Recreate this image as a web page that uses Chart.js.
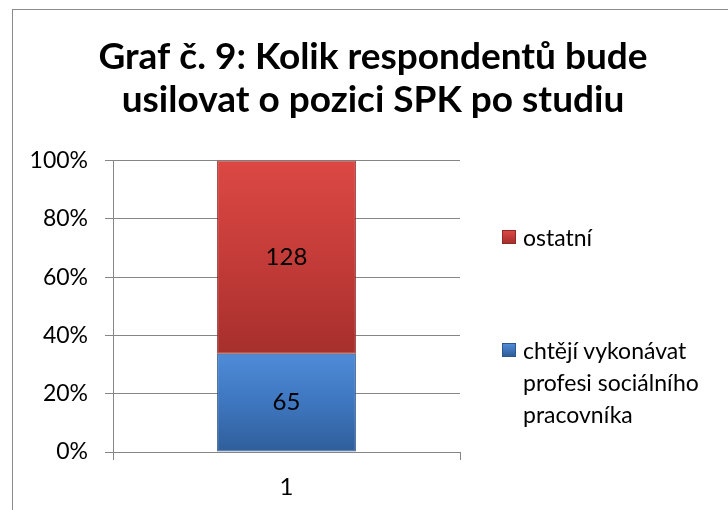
<!DOCTYPE html>
<html lang="cs">
<head>
<meta charset="utf-8">
<title>Graf č. 9</title>
<script src="https://cdn.jsdelivr.net/npm/chart.js@4.4.1/dist/chart.umd.min.js"></script>
<style>
    html, body {
        margin: 0;
        padding: 0;
        background: #fff;
    }
    .chart-wrap {
        position: relative;
        width: 728px;
        height: 510px;
        overflow: hidden;
        font-family: "Lato", "DejaVu Sans", sans-serif;
    }
    .chart-frame {
        position: absolute;
        left: 12px;
        top: 9px;
        width: 740px;
        height: 520px;
        border: 1.5px solid #8a8a8a;
        pointer-events: none;
    }
    #chart {
        position: absolute;
        left: 0;
        top: 0;
    }
    .legend {
        position: absolute;
        left: 502px;
        top: 221px;
        width: 215px;
        margin: 0;
        padding: 0;
        list-style: none;
        font-size: 23px;
        line-height: 32px;
        color: #000;
    }
    .legend-item {
        display: flex;
        align-items: flex-start;
    }
    .legend-item + .legend-item {
        margin-top: 81px;
    }
    .legend-box {
        flex: 0 0 14px;
        height: 14px;
        margin: 9px 7px 0 0;
    }
</style>
</head>
<body>
<div class="chart-wrap">
    <canvas id="chart" width="728" height="510"></canvas>
    <div class="chart-frame"></div>
    <ul class="legend" id="legend"></ul>
</div>
<script>
const chartTitle = ["Graf č. 9: Kolik respondentů bude", "usilovat o pozici SPK po studiu"];
const categories = ["1"];
const seriesNames = ["chtějí vykonávat profesi sociálního pracovníka", "ostatní"];
const wantSocialWork = [65];
const others = [128];
const yTickValues = [0, 20, 40, 60, 80, 100];

const seriesCounts = [wantSocialWork, others];
const seriesColors = [
    { top: "#4f8bd8", mid: "#3e76bf", bottom: "#2f5e9a", edge: "#2b568c" },
    { top: "#dc4844", mid: "#c43c39", bottom: "#a62f2c", edge: "#8e2a28" },
];

// 100% stacked: turn counts into shares per category
const totals = categories.map((_, i) => seriesCounts.reduce((sum, s) => sum + s[i], 0));
const seriesShares = seriesCounts.map((s) => s.map((v, i) => (v / totals[i]) * 100));

const FONT = "Lato";
const AXIS_GRAY = "#868686";

function segmentGradient(context, seriesIndex) {
    const chart = context.chart;
    const yScale = chart.scales.y;
    const colors = seriesColors[seriesIndex];
    if (!chart.chartArea || !yScale) return colors.mid;
    const i = context.dataIndex ?? 0;
    let start = 0;
    for (let s = 0; s < seriesIndex; s++) start += seriesShares[s][i];
    const end = start + seriesShares[seriesIndex][i];
    const yTop = yScale.getPixelForValue(end);
    const yBottom = yScale.getPixelForValue(start);
    const gradient = chart.ctx.createLinearGradient(0, yTop, 0, yBottom);
    gradient.addColorStop(0, colors.top);
    gradient.addColorStop(0.5, colors.mid);
    gradient.addColorStop(1, colors.bottom);
    return gradient;
}

const countLabels = {
    id: "countLabels",
    afterDatasetsDraw(chart) {
        const { ctx } = chart;
        ctx.save();
        ctx.font = `24px ${FONT}`;
        ctx.fillStyle = "#000";
        ctx.textAlign = "center";
        ctx.textBaseline = "middle";
        chart.data.datasets.forEach((dataset, d) => {
            chart.getDatasetMeta(d).data.forEach((bar, i) => {
                ctx.fillText(String(seriesCounts[d][i]), bar.x, (bar.y + bar.base) / 2);
            });
        });
        ctx.restore();
    },
};

new Chart(document.getElementById("chart"), {
    type: "bar",
    data: {
        labels: categories,
        datasets: seriesNames.map((name, d) => ({
            label: name,
            data: seriesShares[d],
            backgroundColor: (context) => segmentGradient(context, d),
            borderColor: seriesColors[d].edge,
            borderWidth: 1,
            borderSkipped: false,
            categoryPercentage: 1,
            barPercentage: 0.4,
        })),
    },
    options: {
        responsive: false,
        devicePixelRatio: 1,
        animation: false,
        layout: {
            padding: { left: 18, right: 0, top: 0, bottom: 0 },
        },
        plugins: {
            legend: { display: false },
            tooltip: { enabled: false },
            title: {
                display: true,
                text: chartTitle,
                color: "#000",
                font: { family: FONT, size: 37, weight: "bold", lineHeight: 1.17 },
                padding: { top: 35, bottom: 39 },
            },
        },
        scales: {
            x: {
                stacked: true,
                grid: {
                    display: true,
                    drawOnChartArea: false,
                    color: AXIS_GRAY,
                    tickLength: 8,
                },
                border: { display: true, color: AXIS_GRAY },
                ticks: {
                    color: "#000",
                    font: { family: FONT, size: 24 },
                    padding: 13,
                },
                afterFit: (scale) => {
                    scale.height = 58;
                },
            },
            y: {
                stacked: true,
                min: 0,
                max: 100,
                afterBuildTicks: (scale) => {
                    scale.ticks = yTickValues.map((value) => ({ value }));
                },
                grid: {
                    color: AXIS_GRAY,
                    tickLength: 8,
                },
                border: { display: true, color: AXIS_GRAY },
                ticks: {
                    color: "#000",
                    font: { family: FONT, size: 23 },
                    padding: 17,
                    callback: (value) => `${value}%`,
                },
                afterFit: (scale) => {
                    scale.width = 95;
                },
            },
            legendSpace: {
                position: "right",
                display: true,
                grid: { display: false },
                border: { display: false },
                ticks: { display: false },
                afterFit: (scale) => {
                    scale.width = 268;
                },
            },
        },
    },
    plugins: [countLabels],
});

// legend in the same order as Excel draws it: top series first
const legendList = document.getElementById("legend");
seriesNames
    .map((name, d) => ({ name, colors: seriesColors[d] }))
    .reverse()
    .forEach(({ name, colors }) => {
        legendList.insertAdjacentHTML("beforeend", `
            <li class="legend-item">
                <span class="legend-box" style="background: linear-gradient(${colors.top}, ${colors.bottom}); border: 1px solid ${colors.edge}; box-sizing: border-box;"></span>
                <span>${name}</span>
            </li>
        `);
    });
</script>
</body>
</html>
